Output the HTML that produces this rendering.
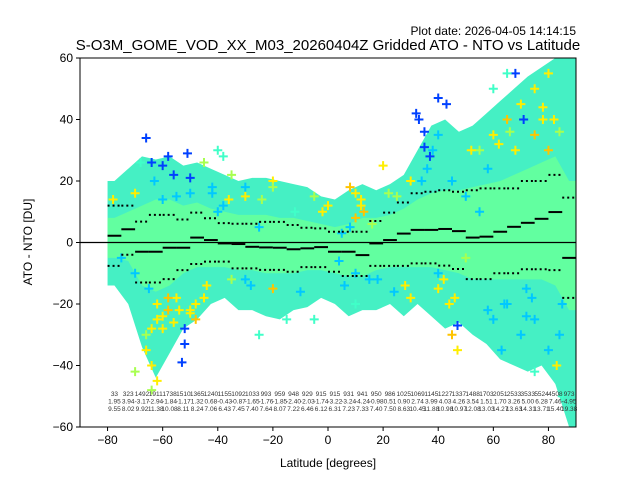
<!DOCTYPE html>
<html><head><meta charset="utf-8">
<style>
body{margin:0;background:#fff;}
svg{display:block;font-family:"Liberation Sans","DejaVu Sans",sans-serif;}
</style></head>
<body>
<svg id="chart" width="640" height="480" viewBox="0 0 640 480" xmlns="http://www.w3.org/2000/svg">
<rect width="640" height="480" fill="#fff"/>
<text x="576" y="35" text-anchor="end" font-size="12">Plot date: 2026-04-05 14:14:15</text>
<text x="328" y="50" text-anchor="middle" font-size="15">S-O3M_GOME_VOD_XX_M03_20260404Z Gridded ATO - NTO vs Latitude</text>
<g id="plot"></g>
<rect x="80" y="58" width="496" height="369" fill="none" stroke="#000" stroke-width="1"/>
<g id="axes"></g>
<text x="328" y="467" text-anchor="middle" font-size="12">Latitude [degrees]</text>
<text x="32" y="242" text-anchor="middle" font-size="12" transform="rotate(-90 32 242)">ATO - NTO [DU]</text>
</svg>
<script>
const binLats = [-80,-75,-70,-65,-60,-55,-50,-45,-40,-35,-30,-25,-20,-15,-10,-5,0,5,10,15,20,25,30,35,40,45,50,55,60,65,70,75,80,85];
const binMeans = [2.2,4.3,-3.0,-3.0,-1.7,-1.7,1.6,0.8,-0.3,-0.5,-1.4,-1.6,-1.7,-2.2,-1.9,-1.5,-3.0,-3.0,-4.1,-0.3,0.8,2.9,4.1,4.1,4.4,3.7,1.6,1.9,3.5,5.1,6.4,7.7,9.9,-5.0];
const binUpper = [12,12,6.8,9,9,7.5,9.7,7.9,6.3,6.1,6.1,6.7,6.7,5.7,4.8,4.6,3.5,3.5,3.5,7,9.7,13,16,16.5,17,16.5,17,17.6,17.6,17.6,20,20,22,14.6];
const binLower = [-7.6,-4,-13,-13,-11.9,-9,-7,-6.2,-6.2,-8.4,-8.4,-8.9,-8.9,-9.5,-8,-8,-9.5,-10.9,-10.9,-7.6,-7.6,-7.6,-6.8,-6.8,-7.5,-8.6,-11.9,-11.9,-10,-10,-8.7,-8.7,-9,-18];
const envTop = [20,24,28,27,28,25,26,24,22,20,21,21,20,19,18,15,14,17,19,17,19,22,30,38,40,36,38,42,46,50,54,57,60,60];
const envBottom = [-14,-20,-34,-44,-36,-28,-25,-20,-18,-22,-22,-24,-25,-22,-21,-18,-20,-24,-22,-22,-20,-24,-20,-24,-28,-26,-30,-33,-38,-40,-42,-40,-46,-60];
const coreTop = [8,10,12,14,14,12,13,11,10,9,9,9,8,8,7,6,5,6,8,8,9,11,14,16,17,17,18,19,20,22,24,26,28,20];
const coreBottom = [-5,-6,-14,-16,-14,-10,-8,-8,-8,-9,-9,-10,-10,-10,-9,-9,-10,-11,-11,-9,-8,-8,-8,-8,-9,-10,-12,-12,-12,-12,-12,-12,-14,-22];
const countLabels = ["33","323","1492","1911","1738","1510","1365","1240","1155","1092","1033","993","959","948","929","915","915","931","941","950","986","1025","1069","1145","1227","1337","1488","1703","2051","2533","3533","5524","4508","973"];
const meanLabels = ["1.95","3.94","-3.17","-2.94","-1.84","-1.17","1.32","0.68","-0.43","-0.87","-1.65","-1.76","-1.85","-2.40","-2.03","-1.74","-3.22","-3.24","-4.24","-0.98","0.51","0.90","2.74","3.99","4.03","4.26","3.54","1.51","1.70","3.26","5.00","6.28","7.46","-4.95"];
const stdLabels = ["9.55","8.02","9.92","11.38","10.08","8.11","8.24","7.06","6.43","7.45","7.40","7.64","8.07","7.22","6.46","6.12","6.31","7.23","7.33","7.40","7.50","8.63","10.45","11.88","10.98","10.97","12.08","13.03","14.27","13.63","14.31","13.71","15.40","19.38"];
const xTicks = [-80,-60,-40,-20,0,20,40,60,80];
const yTicks = [-60,-40,-20,0,20,40,60];
const palette = ["#0040ff","#00c8ff","#ffee00","#ffc400","#40ffc8","#a8ff50"];
const ptLat = [-66,-64,-60,-58,-56,-51,-50,-52,-52,-53,32,33,35,35,37,40,43,68,71,47,
 -63,-55,-40,-38,-25,5,8,38,40,45,50,55,60,63,65,70,72,75,80,85,40,10,15,-30,-65,-70,-75,
 -78,-70,-62,-66,-60,-50,-48,-55,-45,-64,-62,10,12,40,42,44,30,30,60,62,70,75,80,82,83,47,-20,-30,0,20,
 8,10,13,65,75,80,45,-48,-58,-20,
 -38,-40,-68,-25,-5,-15,10,60,65,85,75,
 -45,-35,-20,-5,25,55,-70,-64,50,
 -62,-60,-58,-56,-54,-50,-64,-66,-44,-42,-36,-28,-24,-10,-2,6,12,18,22,28,36,52,58,66,72,78,84,
 -60,-50,-42,-35,-30,-12,4,16,24,34,46,58,64,68,74,78,84];
const ptVal = [34,26,25,28,22,29,21,-28,-33,-39,42,40,36,31,28,47,45,55,40,-27,
 20,15,10,12,5,3,5,30,35,20,15,10,-25,-35,-20,-30,-15,-25,-35,-20,-10,-10,-12,-12,-15,-10,-5,
 14,16,-25,-35,-28,-22,-20,-18,-18,-40,-45,16,14,-15,-12,-20,20,-18,35,32,45,50,55,40,-40,-35,20,15,12,25,
 18,8,10,40,35,30,-30,-25,-22,-15,
 28,30,26,-30,-25,-25,-20,50,55,-50,-42,
 26,22,18,15,15,30,-42,-48,-5,
 -20,-24,-18,-26,-22,-23,-28,-30,-14,16,14,-14,14,-16,10,-14,12,-12,16,-14,24,30,-22,36,-24,40,-30,
 14,16,18,-12,18,10,-6,6,-16,20,-18,24,-20,30,-18,44,36];
const ptColor = [0,0,0,0,0,0,0,0,0,0,0,0,0,0,0,0,0,0,0,0,
 1,1,1,1,1,1,1,1,1,1,1,1,1,1,1,1,1,1,1,1,1,1,1,1,1,1,1,
 2,2,2,2,2,2,2,2,2,2,2,2,2,2,2,2,2,2,2,2,2,2,2,2,2,2,2,2,2,2,
 3,3,3,3,3,3,3,3,3,3,
 4,4,4,4,4,4,4,4,4,4,4,
 5,5,5,5,5,5,5,5,5,
 2,2,3,2,2,2,2,5,2,1,2,1,5,1,2,1,2,1,5,2,1,2,1,5,1,2,1,
 1,1,1,5,1,4,1,5,1,1,2,1,1,2,1,2,5];

const NS="http://www.w3.org/2000/svg";
const X0=80,X1=576,Y0=58,Y1=427;
const xs = v => X0 + (v+90)/180*(X1-X0);
const ys = v => Y1 - (v+60)/120*(Y1-Y0);
const plot=document.getElementById('plot');
const axes=document.getElementById('axes');
function mk(tag,attrs,parent){const e=document.createElementNS(NS,tag);for(const k in attrs)e.setAttribute(k,attrs[k]);parent.appendChild(e);return e;}

const defs=mk('defs',{},plot);
const cp=mk('clipPath',{id:'clip'},defs);
mk('rect',{x:X0,y:Y0,width:X1-X0,height:Y1-Y0},cp);
const g=mk('g',{'clip-path':'url(#clip)'},plot);



function envPath(top,bot){
  const n=binLats.length;
  let d='M'+xs(binLats[0])+','+ys(top[0]);
  for(let i=0;i<n;i++){d+=' L'+xs(binLats[i]+2.5)+','+ys(top[i]);}
  d+=' L'+xs(binLats[n-1]+5)+','+ys(top[n-1]);
  d+=' L'+xs(binLats[n-1]+5)+','+ys(bot[n-1]);
  for(let i=n-1;i>=0;i--){d+=' L'+xs(binLats[i]+2.5)+','+ys(bot[i]);}
  d+=' L'+xs(binLats[0])+','+ys(bot[0]);
  return d+'Z';
}
const env=mk('path',{d:envPath(envTop,envBottom),fill:'#45f0c4'},g);


const core=mk('path',{d:envPath(coreTop,coreBottom),fill:'#62ffa0'},g);



for(let i=0;i<ptLat.length;i++){
  const cx=xs(ptLat[i]),cy=ys(ptVal[i]),s=4.5;
  const p=mk('path',{d:`M${cx-s},${cy}H${cx+s}M${cx},${cy-s}V${cy+s}`,stroke:palette[ptColor[i]],'stroke-width':2},g);
  
  
}

const z=mk('line',{x1:X0,x2:X1,y1:ys(0),y2:ys(0),stroke:'#000','stroke-width':1.2},g);



for(let i=0;i<binLats.length;i++){
  const a=xs(binLats[i]),b=xs(binLats[i]+5);
  const m=mk('line',{x1:a,x2:b,y1:ys(binMeans[i]),y2:ys(binMeans[i]),stroke:'#000','stroke-width':2},g);
  
  
  const u=mk('line',{x1:a,x2:b,y1:ys(binUpper[i]),y2:ys(binUpper[i]),stroke:'#000','stroke-width':2,'stroke-dasharray':'2 3'},g);
  
  
  const l=mk('line',{x1:a,x2:b,y1:ys(binLower[i]),y2:ys(binLower[i]),stroke:'#000','stroke-width':2,'stroke-dasharray':'2 3'},g);
  
  
  const rows=[countLabels[i],meanLabels[i],stdLabels[i]];
  for(let r=0;r<3;r++){
    const t=mk('text',{x:xs(binLats[i]+2.5),y:396+r*7.5,'text-anchor':'middle','font-size':6.5,fill:'#333'},plot);
    t.textContent=rows[r];
    
    
  }
}

xTicks.forEach(v=>{
  const x=xs(v);
  const t=mk('line',{x1:x,x2:x,y1:Y1,y2:Y1+4,stroke:'#000'},axes);
  
  
  const l=mk('text',{x:x,y:Y1+17,'text-anchor':'middle','font-size':12},axes);
  l.textContent=(v<0?'\u2212'+(-v):v);
  
  
});
yTicks.forEach(v=>{
  const y=ys(v);
  const t=mk('line',{x1:X0-4,x2:X0,y1:y,y2:y,stroke:'#000'},axes);
  
  
  const l=mk('text',{x:X0-7,y:y+4,'text-anchor':'end','font-size':12},axes);
  l.textContent=(v<0?'\u2212'+(-v):v);
  
  
});
</script>
</body></html>
